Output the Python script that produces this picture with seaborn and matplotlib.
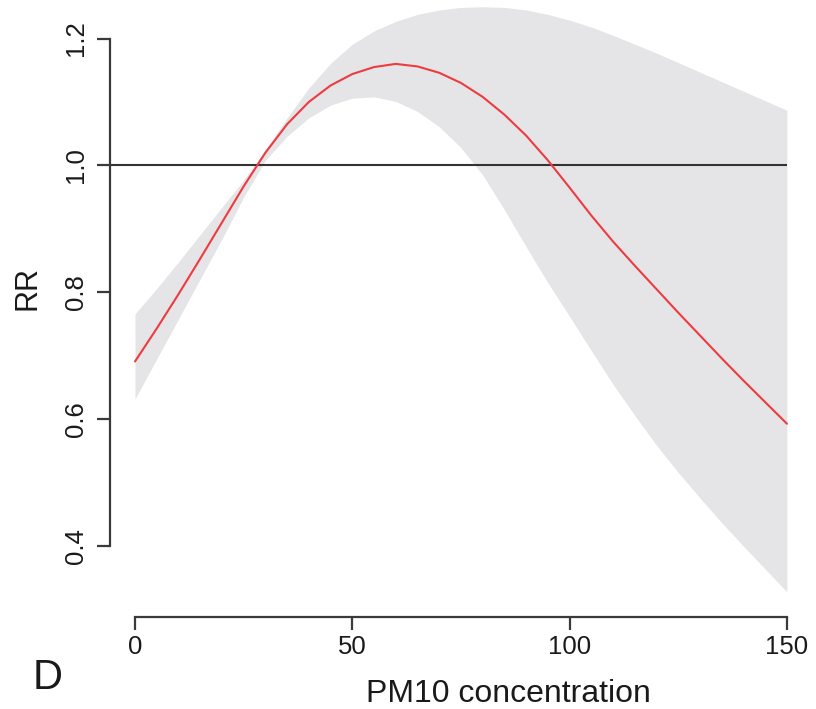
import matplotlib
matplotlib.use("Agg")
import matplotlib.pyplot as plt
import seaborn as sns
import numpy as np
import pandas as pd

# PM10 concentration grid
pm10 = [0, 5, 10, 15, 20, 25, 30, 35, 40, 45, 50, 55, 60, 65, 70, 75,
        80, 85, 90, 95, 100, 105, 110, 115, 120, 125, 130, 135, 140, 145, 150]
# relative risk estimate
rr = [0.691, 0.743, 0.797, 0.853, 0.910, 0.967, 1.020, 1.065, 1.100, 1.126,
      1.144, 1.155, 1.160, 1.156, 1.146, 1.130, 1.108, 1.080, 1.047, 1.008,
      0.965, 0.921, 0.880, 0.842, 0.805, 0.768, 0.732, 0.696, 0.661, 0.627, 0.593]
# confidence band
rr_upper = [0.766, 0.806, 0.848, 0.891, 0.934, 0.977, 1.025, 1.075, 1.122, 1.161,
            1.191, 1.212, 1.227, 1.238, 1.245, 1.249, 1.250, 1.249, 1.245, 1.238,
            1.229, 1.218, 1.205, 1.191, 1.177, 1.162, 1.147, 1.132, 1.117, 1.102, 1.087]
rr_lower = [0.632, 0.695, 0.758, 0.821, 0.884, 0.950, 1.008, 1.046, 1.075, 1.095,
            1.106, 1.108, 1.101, 1.085, 1.061, 1.028, 0.985, 0.930, 0.872, 0.815,
            0.762, 0.708, 0.655, 0.606, 0.559, 0.516, 0.476, 0.437, 0.400, 0.364, 0.328]

x_ticks = [0, 50, 100, 150]
y_ticks = [0.4, 0.6, 0.8, 1.0, 1.2]
y_ticklabels = ["0.4", "0.6", "0.8", "1.0", "1.2"]

sns.set_style("white")
plt.rcParams["font.family"] = ["Liberation Sans", "DejaVu Sans"]

df = pd.DataFrame({"pm10": pm10, "rr": rr, "lo": rr_lower, "hi": rr_upper})

W, H = 816, 709
fig = plt.figure(figsize=(W / 100, H / 100), dpi=100)
ax_left_px, ax_right_px = 110, 813
ax_bottom_px, ax_top_px = 617, -18.6
ax = fig.add_axes([ax_left_px / W, (H - ax_bottom_px) / H,
                   (ax_right_px - ax_left_px) / W, (ax_bottom_px - ax_top_px) / H])

xmin, xmax = -5.75, 156
ymin, ymax = 0.2884, 1.29

axis_col = "#3a3a3a"
ax.fill_between(df["pm10"], df["lo"], df["hi"], color="#e5e5e8", linewidth=0, zorder=1)
ax.hlines(1.0, xmin, 150, color="#333333", linewidth=1.5, zorder=2)
sns.lineplot(data=df, x="pm10", y="rr", ax=ax, color="#ee3b3f", linewidth=1.5, zorder=3)

ax.set_xlim(xmin, xmax)
ax.set_ylim(ymin, ymax)
ax.set_xticks(x_ticks)
ax.set_xticklabels([str(v) for v in x_ticks])
ax.set_yticks(y_ticks)
ax.set_yticklabels(y_ticklabels)

for s in ["top", "right"]:
    ax.spines[s].set_visible(False)
ax.spines["left"].set_bounds(0.4, 1.2)
ax.spines["bottom"].set_bounds(0, 150)
for s in ["left", "bottom"]:
    ax.spines[s].set_color(axis_col)
    ax.spines[s].set_linewidth(1.6)

ax.tick_params(axis="both", direction="out", length=9.4, width=1.6, color=axis_col,
               labelsize=18.5, labelcolor="#1a1a1a")
ax.tick_params(axis="x", pad=3.5, bottom=True)
ax.tick_params(axis="y", pad=6.5, left=True)
for lab in ax.get_yticklabels():
    lab.set_rotation(90)
    lab.set_va("center")
    lab.set_ha("right")

ax.set_xlabel("")
ax.set_ylabel("")
ax.grid(False)

fig.text(508 / W, (H - 702) / H, "PM10 concentration", ha="center", va="baseline",
         fontsize=23, color="#1a1a1a")
fig.text(27 / W, 1 - 288 / H, "RR", rotation=90, ha="center", va="center",
         fontsize=22, color="#1a1a1a")
fig.text(33 / W, (H - 689) / H, "D", ha="left", va="baseline",
         fontsize=30, color="#1a1a1a")

fig.savefig("out.png", dpi=100)
